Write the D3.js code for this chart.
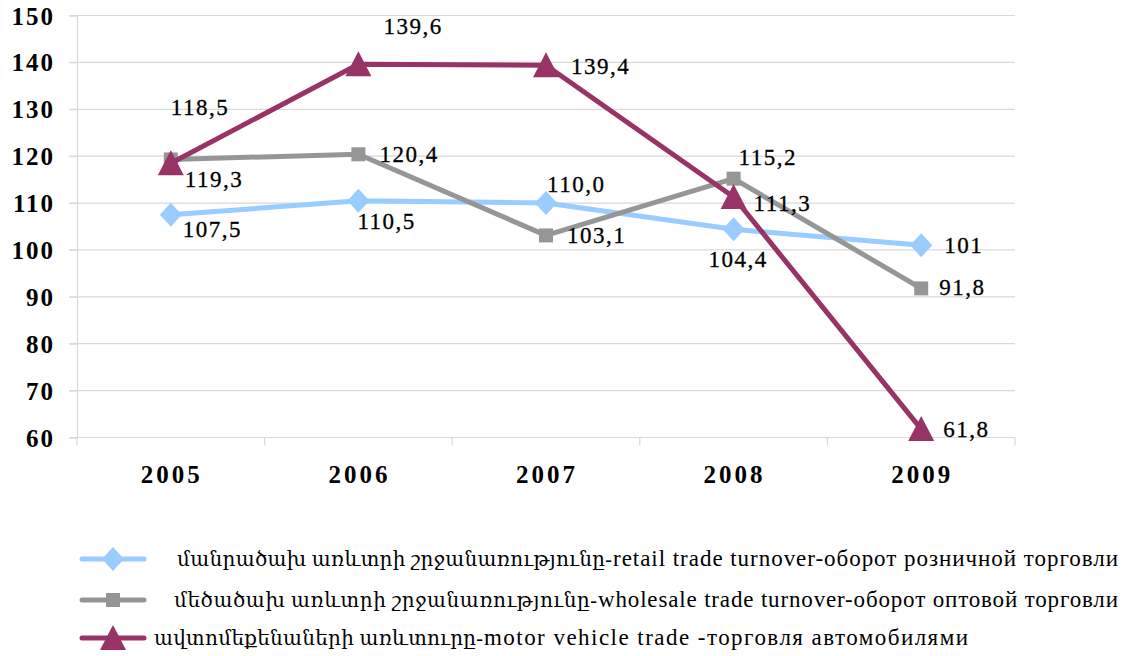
<!DOCTYPE html>
<html>
<head>
<meta charset="utf-8">
<script src="https://cdn.jsdelivr.net/npm/d3@7"></script>
<style>
  body { margin: 0; background: #fff; }
  svg text { font-family: "Liberation Serif", "Times New Roman", "DejaVu Serif", serif; }
</style>
</head>
<body>
<svg class="chart" width="1125" height="656"></svg>
<script>
/* data */
const years = ['2005', '2006', '2007', '2008', '2009']
const retail = [107.5, 110.5, 110.0, 104.4, 101]
const wholesale = [119.3, 120.4, 103.1, 115.2, 91.8]
const motor = [118.5, 139.6, 139.4, 111.3, 61.8]
const retailLabels = ['107,5', '110,5', '110,0', '104,4', '101']
const wholesaleLabels = ['119,3', '120,4', '103,1', '115,2', '91,8']
const motorLabels = ['118,5', '139,6', '139,4', '111,3', '61,8']
const yTicks = [60, 70, 80, 90, 100, 110, 120, 130, 140, 150]
// legend names, Armenian part and the rest
const legendArm = [
  'մանրածախ առևտրի շրջանառությունը-',
  'մեծածախ առևտրի շրջանառությունը-',
  'ավտոմեքենաների  առևտուրը-'
]
const legendRest = [
  'retail trade turnover-оборот розничной торговли',
  'wholesale trade turnover-оборот оптовой торговли',
  'motor vehicle trade -торговля  автомобилями'
]

// label offsets (dx, dy) from each point, as placed in the original
const retailOff = [[12, 22], [-1, 28], [1, -11], [-25, 38], [23, 8]]
const wholesaleOff = [[14, 28], [21, 8], [21, 8], [5, -14], [18, 7]]
const motorOff = [[0, -48], [25, -30], [25, 9], [20, 14], [22, 8]]

const svg = d3.select('.chart')
const mLeft = 77, mRight = 1015, mTop = 15.5, mBottom = 437.5

const x = d3.scaleBand().domain(years).range([mLeft, mRight])
const y = d3.scaleLinear().domain([60, 150]).range([mBottom, mTop])
const cx = d => x(d) + x.bandwidth() / 2

/* grid */
svg.append('g').selectAll('line')
  .data(yTicks).enter().append('line')
  .attr('x1', mLeft - 8).attr('x2', mRight)
  .attr('y1', d => y(d)).attr('y2', d => y(d))
  .attr('stroke', '#d9d9d9').attr('stroke-width', 1.2)

/* y axis */
const yAxis = svg.append('g')
  .attr('transform', `translate(${mLeft},0)`)
  .call(d3.axisLeft(y).tickValues(yTicks).tickSize(8).tickPadding(14))
yAxis.select('.domain').attr('stroke', '#d9d9d9').attr('stroke-width', 1.2)
yAxis.selectAll('.tick line').attr('stroke', '#d9d9d9')
yAxis.selectAll('text')
  .attr('font-size', '25px').attr('font-weight', 'bold')
  .attr('letter-spacing', '2px').attr('fill', '#000')
  .attr('dy', '0.34em')

/* x axis */
const xTickPos = d3.range(years.length + 1).map(i => mLeft + i * x.bandwidth())
svg.append('line')
  .attr('x1', mLeft - 8).attr('x2', mRight).attr('y1', mBottom).attr('y2', mBottom)
  .attr('stroke', '#d9d9d9').attr('stroke-width', 1.2)
svg.append('g').selectAll('line')
  .data(xTickPos).enter().append('line')
  .attr('x1', d => d).attr('x2', d => d)
  .attr('y1', mBottom).attr('y2', mBottom + 8)
  .attr('stroke', '#d9d9d9').attr('stroke-width', 1.2)
svg.append('g').selectAll('text')
  .data(years).enter().append('text')
  .attr('x', d => cx(d) + 1).attr('y', 483)
  .attr('text-anchor', 'middle')
  .attr('font-size', '25px').attr('font-weight', 'bold')
  .attr('letter-spacing', '3px')
  .text(d => d)

/* series */
const series = [
  { vals: retail, labels: retailLabels, off: retailOff, color: '#99ccff', marker: 'diamond' },
  { vals: wholesale, labels: wholesaleLabels, off: wholesaleOff, color: '#969696', marker: 'square' },
  { vals: motor, labels: motorLabels, off: motorOff, color: '#993366', marker: 'triangle' }
]

function drawMarker (g, type, color) {
  if (type === 'diamond') {
    g.append('path').attr('d', 'M0,-12L11,0L0,12L-11,0Z').attr('fill', color)
  } else if (type === 'square') {
    g.append('rect').attr('x', -7).attr('y', -7).attr('width', 14).attr('height', 14).attr('fill', color)
  } else {
    g.append('path').attr('d', 'M0,-13L13,12L-13,12Z').attr('fill', color)
  }
}

const line = d3.line().x((d, i) => cx(years[i])).y(d => y(d))

series.forEach(s => {
  svg.append('path')
    .datum(s.vals)
    .attr('d', line)
    .attr('fill', 'none')
    .attr('stroke', s.color)
    .attr('stroke-width', 5)
    .attr('stroke-linejoin', 'round')
  s.vals.forEach((v, i) => {
    const g = svg.append('g').attr('transform', `translate(${cx(years[i])},${y(v)})`)
    drawMarker(g, s.marker, s.color)
  })
})

/* data labels */
series.forEach(s => {
  svg.append('g').selectAll('text')
    .data(s.vals).enter().append('text')
    .attr('x', (d, i) => cx(years[i]) + s.off[i][0])
    .attr('y', (d, i) => y(d) + s.off[i][1])
    .attr('font-size', '23px')
    .attr('letter-spacing', '1.5px')
    .attr('fill', '#000')
    .attr('stroke', '#000').attr('stroke-width', 0.3)
    .text((d, i) => s.labels[i])
})

/* legend */
const legendY = [559, 600, 638]
const armStart = [177, 174, 154]
const restStart = [613, 598, 484]
const restEnd = [1118, 1118, 968]
series.forEach((s, i) => {
  const g = svg.append('g')
  g.append('line')
    .attr('x1', 82).attr('x2', 144)
    .attr('y1', legendY[i]).attr('y2', legendY[i])
    .attr('stroke', s.color).attr('stroke-width', 5).attr('stroke-linecap', 'round')
  drawMarker(g.append('g').attr('transform', `translate(113,${legendY[i]})`), s.marker, s.color)
  g.append('text')
    .attr('x', armStart[i]).attr('y', legendY[i] + 7)
    .attr('font-size', '20px')
    .attr('textLength', restStart[i] - armStart[i] - 1)
    .attr('lengthAdjust', 'spacing')
    .text(legendArm[i])
  g.append('text')
    .attr('x', restStart[i]).attr('y', legendY[i] + 7)
    .attr('font-size', '23px')
    .attr('textLength', restEnd[i] - restStart[i])
    .attr('lengthAdjust', 'spacing')
    .text(legendRest[i])
})
</script>
</body>
</html>
